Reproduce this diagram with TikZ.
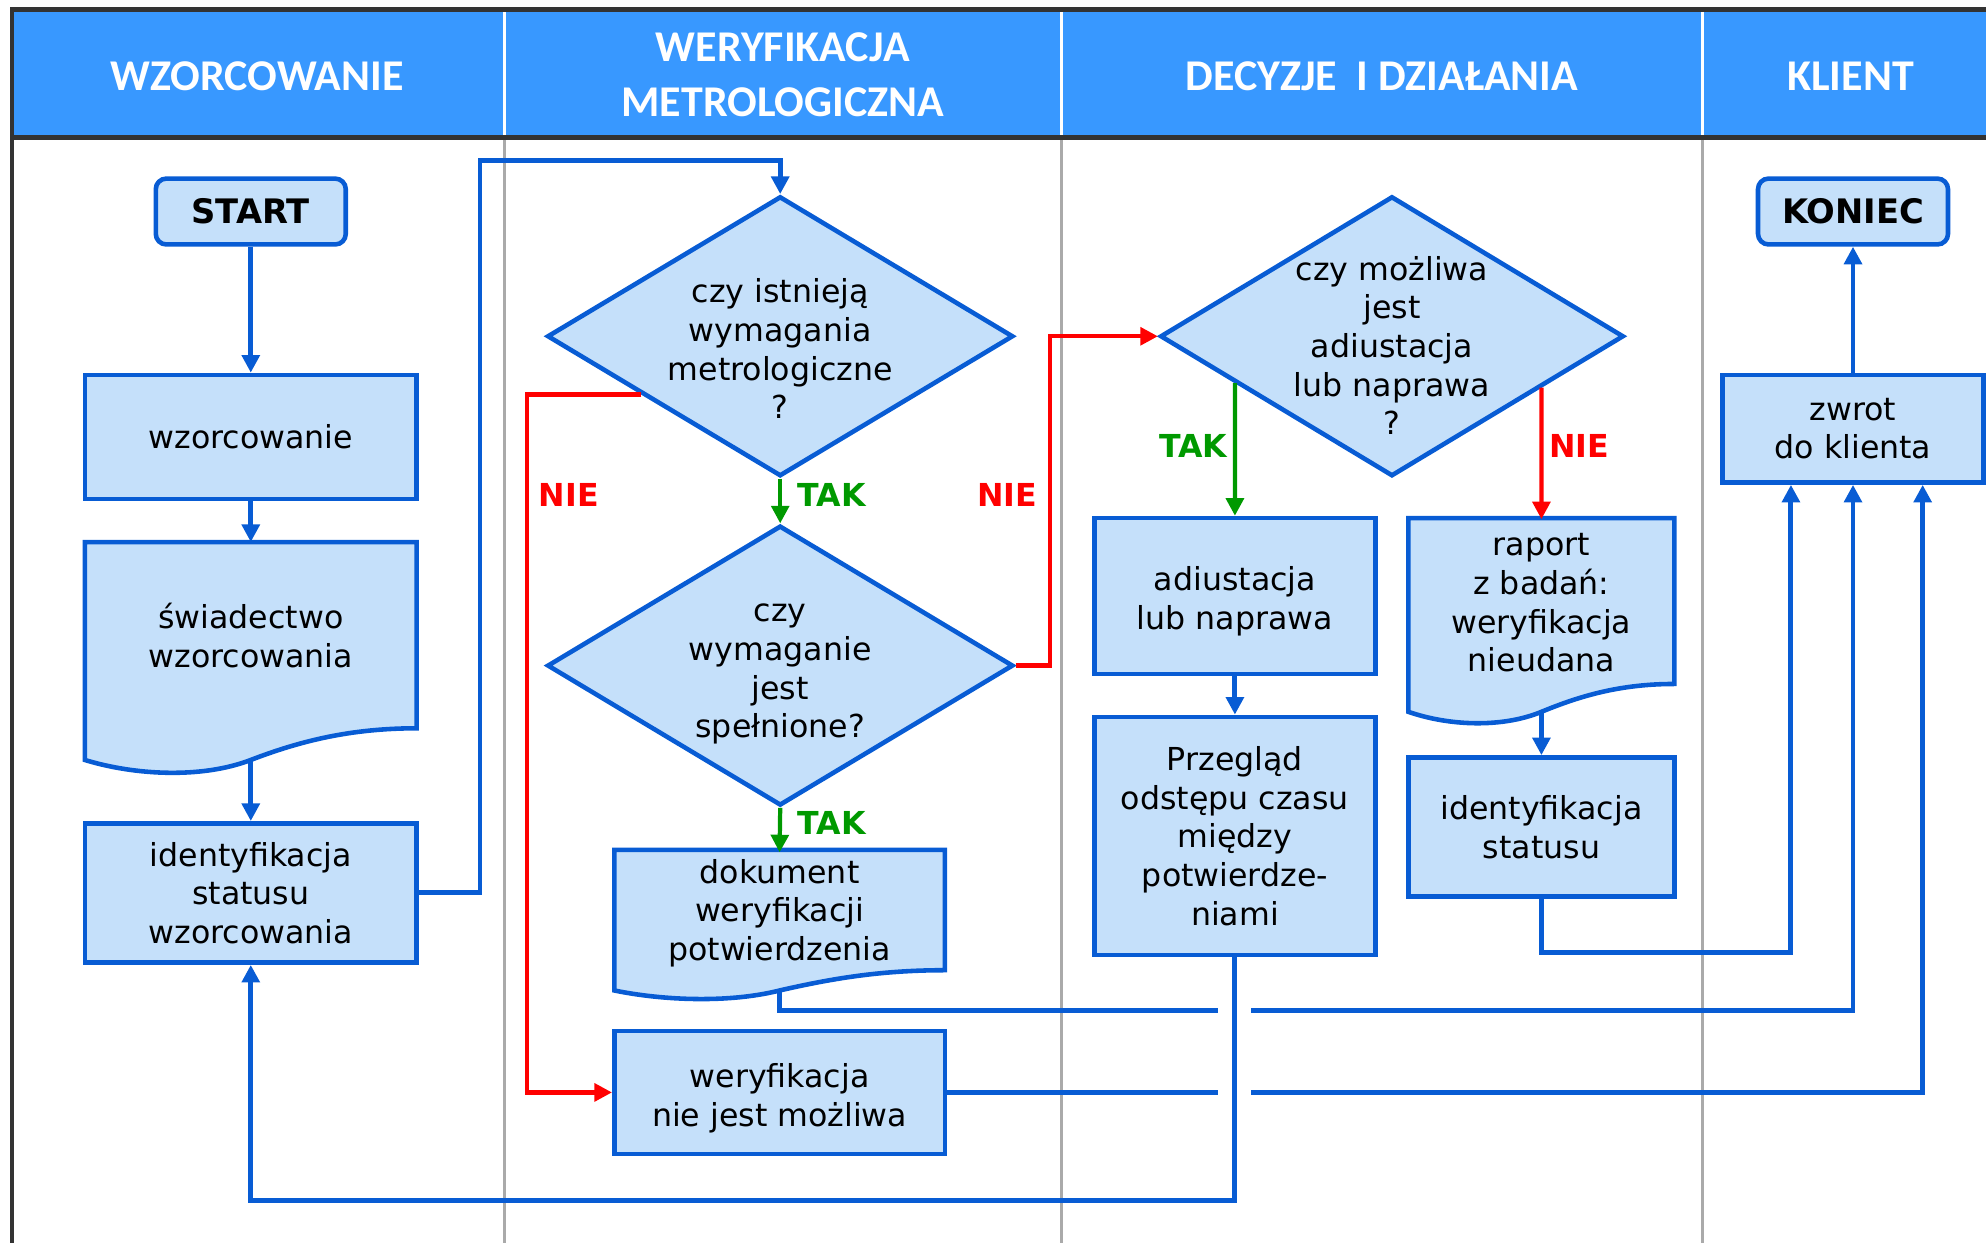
\documentclass[tikz,border=0pt]{standalone}
\usepackage{fontspec}
\setmainfont{DejaVu Sans}
\newfontfamily\headfont{Carlito}
\usetikzlibrary{shapes.geometric,arrows.meta,calc}

\definecolor{headblue}{RGB}{56,152,255}
\definecolor{boxfill}{RGB}{197,224,250}
\definecolor{boxline}{RGB}{8,92,212}
\definecolor{yesgreen}{RGB}{0,153,0}
\definecolor{nored}{RGB}{255,0,0}
\definecolor{framegray}{RGB}{51,51,51}
\definecolor{lanegray}{RGB}{170,170,170}

\newcommand{\unitpx}{0.012666cm}

\tikzset{
  every node/.style={font=\fontsize{9}{11}\selectfont},
  proc/.style={rectangle,draw=boxline,fill=boxfill,line width=1.3pt,align=center,inner sep=2pt},
  term/.style={proc,rounded corners=3pt,font=\fontsize{9.6}{11}\selectfont\bfseries},
  decision/.style={diamond,draw=boxline,fill=boxfill,line width=1.3pt,align=center,inner sep=-8pt,shape aspect=1.66},
  doctext/.style={rectangle,align=center,inner sep=0pt},
  docshape/.style={draw=boxline,fill=boxfill,line width=1.3pt},
  flow/.style={draw=boxline,line width=1.4pt,-{Triangle[length=5pt,width=5pt]}},
  yes/.style={flow,draw=yesgreen,line width=1.2pt},
  no/.style={flow,draw=nored,line width=1.2pt},
  yeslabel/.style={text=yesgreen,font=\fontsize{9}{11}\selectfont\bfseries},
  nolabel/.style={text=nored,font=\fontsize{9}{11}\selectfont\bfseries},
  lanehead/.style={text=white,align=center,font=\headfont\bfseries\fontsize{12.5}{15.5}\selectfont},
  frame/.style={draw=framegray,line width=1.25pt},
}

\begin{document}
\begin{tikzpicture}[x=0.012666cm,y=-0.012666cm]
    \useasboundingbox (0,0) rectangle (1568,981);

    % swimlanes
    \fill[headblue] (9,9) rectangle (1568,107);
    \foreach \x in {398,838,1344} {
        \draw[white,line width=0.9pt] (\x,9) -- (\x,107);
        \draw[lanegray,line width=0.9pt] (\x,110) -- (\x,981);
    }
    \draw[frame] (8,7.5) -- (1568,7.5);
    \draw[frame] (9,108.7) -- (1568,108.7);
    \draw[frame] (9.3,6) -- (9.3,981);

    \node[lanehead] (h_wzorc) at (203,60) {WZORCOWANIE};
    \node[lanehead] (h_weryf) at (618,59) {WERYFIKACJA\\METROLOGICZNA};
    \node[lanehead] (h_decyz) at (1091,60) {DECYZJE~~I DZIAŁANIA};
    \node[lanehead] (h_klient) at (1461,60) {KLIENT};

    % wzorcowanie
    \node[term,minimum width=150*\unitpx,minimum height=52*\unitpx] (start) at (198,167) {START};
    \node[proc,minimum width=262*\unitpx,minimum height=98*\unitpx] (wzorc) at (198,345) {wzorcowanie};
    \draw[docshape] (67,428) -- (329,428) -- (329,575) .. controls (277,575) and (237,585) .. (198,600) .. controls (159,615) and (106,612) .. (67,600) -- cycle;
    \node[doctext,minimum width=262*\unitpx,minimum height=147*\unitpx] (swiad) at (198,502) {świadectwo\\wzorcowania};
    \coordinate (swiad_out) at (198,600);
    \node[proc,minimum width=262*\unitpx,minimum height=110*\unitpx] (idwz) at (198,705) {identyfikacja\\statusu\\wzorcowania};

    % weryfikacja
    \node[decision,minimum width=368*\unitpx,minimum height=221*\unitpx] (czyist) at (616,265.5) {\rule{0pt}{14pt}czy istnieją\\wymagania\\metrologiczne\\?};
    \node[decision,minimum width=368*\unitpx,minimum height=221*\unitpx] (czyspel) at (616,525.5) {\rule{0pt}{10pt}czy\\wymaganie\\jest\\spełnione?};
    \draw[docshape] (485,671) -- (746,671) -- (746,766) .. controls (694,766) and (655,773) .. (615.5,782) .. controls (576,792) and (524,790) .. (485,782) -- cycle;
    \node[doctext,minimum width=261*\unitpx,minimum height=95*\unitpx] (dokum) at (615.5,721) {dokument\\weryfikacji\\potwierdzenia};
    \coordinate (dokum_out) at (615.5,782);
    \node[proc,minimum width=261*\unitpx,minimum height=97*\unitpx] (niemozl) at (615.5,862.5) {\rule{0pt}{10pt}weryfikacja\\nie jest możliwa};

    % decyzje
    \node[decision,minimum width=366*\unitpx,minimum height=221*\unitpx] (czymozl) at (1099,265.5) {\rule{0pt}{12pt}czy możliwa\\jest\\adiustacja\\lub naprawa\\?};
    \node[proc,minimum width=222*\unitpx,minimum height=123*\unitpx] (adiust) at (975,470.5) {\rule{0pt}{10pt}adiustacja\\lub naprawa};
    \node[proc,minimum width=222*\unitpx,minimum height=188*\unitpx] (przeglad) at (975,660) {Przegląd\\odstępu czasu\\między\\potwierdze-\\niami};
    \draw[docshape] (1112,409) -- (1322,409) -- (1322,540) .. controls (1280,540) and (1248.5,549) .. (1217,562) .. controls (1185.5,575) and (1143.5,573) .. (1112,562) -- cycle;
    \node[doctext,minimum width=210*\unitpx,minimum height=131*\unitpx] (raport) at (1217,476) {raport\\z badań:\\weryfikacja\\nieudana};
    \coordinate (raport_out) at (1217,562);
    \node[proc,minimum width=210*\unitpx,minimum height=110*\unitpx] (idstat) at (1217,653) {identyfikacja\\statusu};

    % klient
    \node[term,minimum width=150*\unitpx,minimum height=52*\unitpx] (koniec) at (1463,167) {KONIEC};
    \node[proc,minimum width=206*\unitpx,minimum height=85*\unitpx] (zwrot) at (1463,338.5) {zwrot\\do klienta};

    \draw[flow] (start.south) -- (wzorc.north);
    \draw[flow] (wzorc.south) -- (swiad.north);
    \draw[flow] (swiad_out) -- (idwz.north);
    \draw[flow] (idwz.east) -| (379,127) -| (czyist.north);

    \draw[yes] (czyist.south) -- (czyspel.north);
    \node[yeslabel,anchor=west] (tak1) at (620,391) {TAK};
    \draw[yes] (czyspel.south) -- (dokum.north);
    \node[yeslabel,anchor=west] (tak2) at (620,650) {TAK};

    \draw[no] ($(czyist.west)!0.41!(czyist.south)$) -- ++(-90,0) |- (niemozl.west);
    \node[nolabel] (nie1) at (449,391) {NIE};
    \draw[no] (czyspel.east) -- ++(27,0) |- (czymozl.west);
    \node[nolabel] (nie2) at (795,391) {NIE};

    \draw[yes] (intersection of czymozl.west--czymozl.south and adiust.north--adiust.center) -- (adiust.north);
    \node[yeslabel] (tak3) at (942,352) {TAK};
    \draw[no] (intersection of czymozl.east--czymozl.south and raport.north--raport.center) -- (raport.north);
    \node[nolabel] (nie3) at (1247,352) {NIE};

    \draw[flow] (adiust.south) -- (przeglad.north);
    \draw[flow] (raport_out) -- (idstat.north);
    \draw[flow] (zwrot.north) -- (koniec.south);
    \draw[flow] (idstat.south) -- ++(0,42) -| ($(zwrot.south)+(-49,0)$);
    \draw[flow] (dokum_out) -- ++(0,16) -| (zwrot.south);
    \draw[flow] (niemozl.east) -| ($(zwrot.south)+(55,0)$);

    % line jumps
    \fill[white] (962,792) rectangle (988,804);
    \fill[white] (962,856) rectangle (988,868);
    \draw[flow] (przeglad.south) -- ++(0,192) -| (idwz.south);
\end{tikzpicture}
\end{document}
